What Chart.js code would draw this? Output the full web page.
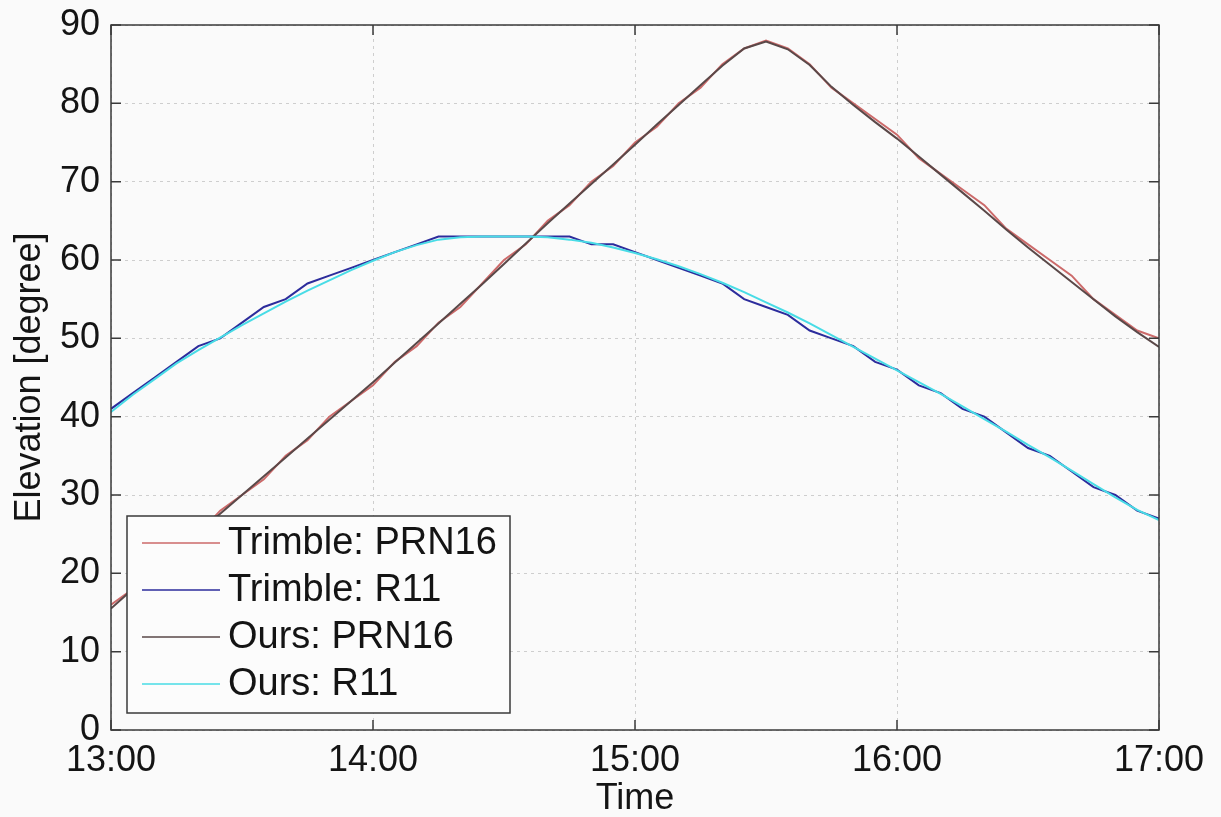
<!DOCTYPE html>
<html><head><meta charset="utf-8">
<script src="https://cdn.jsdelivr.net/npm/chart.js@4/dist/chart.umd.min.js"></script>
<style>html,body{margin:0;padding:0;background:#fafafa;overflow:hidden}#wrap{width:1221px;height:817px}</style>
</head><body><div id="wrap"><canvas id="c" width="1221" height="817"></canvas></div>
<script>
// Time of each sample (local time)
const timeLabels = ['13:00','13:05','13:10','13:15','13:20','13:25','13:30','13:35','13:40','13:45','13:50','13:55',
  '14:00','14:05','14:10','14:15','14:20','14:25','14:30','14:35','14:40','14:45','14:50','14:55',
  '15:00','15:05','15:10','15:15','15:20','15:25','15:30','15:35','15:40','15:45','15:50','15:55',
  '16:00','16:05','16:10','16:15','16:20','16:25','16:30','16:35','16:40','16:45','16:50','16:55','17:00'];
// Elevation [degree]
const trimblePRN16 = [16,18,21,23,25,28,30,32,35,37,40,42,44,47,49,52,54,57,60,62,65,67,70,72,75,77,80,82,85,87,88,
  87,85,82,80,78,76,73,71,69,67,64,62,60,58,55,53,51,50];
const trimbleR11 = [41,43,45,47,49,50,52,54,55,57,58,59,60,61,62,63,63,63,63,63,63,63,62,62,61,60,59,58,57,55,54,
  53,51,50,49,47,46,44,43,41,40,38,36,35,33,31,30,28,27];
const oursPRN16 = [15.5,18.0,20.4,22.8,25.2,27.6,30.0,32.4,34.8,37.2,39.6,42.0,44.4,46.9,49.4,51.9,54.4,56.9,59.5,62.1,
  64.7,67.2,69.7,72.2,74.7,77.3,79.8,82.3,84.8,87.0,87.9,86.9,84.9,82.1,79.8,77.6,75.5,73.2,70.9,68.6,66.3,63.9,
  61.6,59.4,57.2,55.0,52.8,50.8,48.9];
const oursR11 = [40.6,42.8,44.8,46.8,48.5,50.1,51.7,53.2,54.7,56.1,57.4,58.7,59.9,61.0,61.9,62.6,62.9,63.0,63.0,63.0,
  62.9,62.6,62.2,61.6,60.9,60.1,59.2,58.2,57.1,55.9,54.6,53.3,51.9,50.4,48.9,47.4,45.9,44.4,42.9,41.3,39.7,38.1,
  36.4,34.8,33.1,31.4,29.7,28.1,26.8];
const seriesNames = ['Trimble: PRN16','Trimble: R11','Ours: PRN16','Ours: R11'];
const seriesColors = ['#cc6a6a','#2c2c9c','#5a4848','#48dce6'];
const xTickLabels = ['13:00','14:00','15:00','16:00','17:00'];
const yTickValues = [0,10,20,30,40,50,60,70,80,90];

const toMin = s => { const [h,m] = s.split(':').map(Number); return (h-13)*60+m; };
const mkPts = arr => arr.map((v,i)=>({x: toMin(timeLabels[i]), y: v}));
const allSeries = [trimblePRN16, trimbleR11, oursPRN16, oursR11];

const FONT = "'Liberation Sans', Arial, sans-serif";

const boxPlugin = {
  id: 'boxPlugin',
  beforeDraw(chart) {
    const ctx = chart.ctx;
    ctx.save();
    ctx.fillStyle = '#fafafa';
    ctx.fillRect(0,0,chart.width,chart.height);
    ctx.restore();
  },
  afterDatasetsDraw(chart) {
    const {ctx, chartArea: a, scales: {x, y}} = chart;
    ctx.save();
    ctx.strokeStyle = '#3a3a3a';
    ctx.lineWidth = 1.5;
    ctx.strokeRect(a.left, a.top, a.right - a.left, a.bottom - a.top);
    const tl = 10;
    ctx.beginPath();
    x.ticks.forEach(t => { const px = x.getPixelForValue(t.value);
      ctx.moveTo(px, a.bottom); ctx.lineTo(px, a.bottom - tl);
      ctx.moveTo(px, a.top); ctx.lineTo(px, a.top + tl); });
    y.ticks.forEach(t => { const py = y.getPixelForValue(t.value);
      ctx.moveTo(a.left, py); ctx.lineTo(a.left + tl, py);
      ctx.moveTo(a.right, py); ctx.lineTo(a.right - tl, py); });
    ctx.stroke();
    // legend
    const L = 127, T = 516, W = 383, H = 197;
    ctx.fillStyle = '#fcfcfc';
    ctx.fillRect(L, T, W, H);
    ctx.strokeStyle = '#3a3a3a';
    ctx.lineWidth = 1.5;
    ctx.strokeRect(L, T, W, H);
    const rowY = [543, 590, 637, 684];
    chart.data.datasets.forEach((ds, i) => {
      ctx.strokeStyle = ds.borderColor;
      ctx.lineWidth = 1.5;
      ctx.beginPath(); ctx.moveTo(142, rowY[i]); ctx.lineTo(220, rowY[i]); ctx.stroke();
      ctx.fillStyle = '#141414';
      ctx.font = '38px ' + FONT;
      ctx.textBaseline = 'middle';
      ctx.textAlign = 'left';
      ctx.fillText(ds.label, 228, rowY[i] + 1);
    });
    ctx.restore();
  }
};

new Chart(document.getElementById('c'), {
  type: 'line',
  data: {
    datasets: allSeries.map((arr, i) => ({
      label: seriesNames[i],
      data: mkPts(arr),
      borderColor: seriesColors[i],
      backgroundColor: seriesColors[i],
      borderWidth: 2,
      pointRadius: 0,
      tension: 0,
      fill: false,
      order: 4 - i
    }))
  },
  options: {
    responsive: false,
    animation: false,
    devicePixelRatio: 1,
    layout: { padding: { left: 0, right: 62, top: 25, bottom: 0 } },
    plugins: { legend: { display: false }, tooltip: { enabled: false } },
    scales: {
      x: {
        type: 'linear', min: 0, max: 240,
        afterFit: s => { s.height = 87; s.paddingLeft = 0; s.paddingRight = 0; },
        afterBuildTicks: s => { s.ticks = xTickLabels.map(l => ({ value: toMin(l) })); },
        ticks: { padding: 9, color: '#141414', font: { size: 36, family: FONT },
          callback: v => xTickLabels.find(l => toMin(l) === v) || '' , maxRotation: 0, autoSkip: false },
        grid: { drawTicks: false, color: 'rgba(170,170,170,0.55)', lineWidth: 1 },
        border: { display: false, dash: [3,4] },
        title: { display: true, text: 'Time', color: '#141414', font: { size: 36, family: FONT }, padding: { top: 0, bottom: -4 } }
      },
      y: {
        min: 0, max: 90,
        afterFit: s => { s.width = 111; s.paddingTop = 0; s.paddingBottom = 0; },
        afterBuildTicks: s => { s.ticks = yTickValues.map(v => ({ value: v })); },
        ticks: { padding: 11, color: '#141414', font: { size: 36, family: FONT } },
        grid: { drawTicks: false, color: 'rgba(170,170,170,0.55)', lineWidth: 1 },
        border: { display: false, dash: [3,4] },
        title: { display: true, text: 'Elevation [degree]', color: '#141414', font: { size: 36, family: FONT }, padding: { top: 8, bottom: 0 } }
      }
    }
  },
  plugins: [boxPlugin]
});
</script></body></html>
